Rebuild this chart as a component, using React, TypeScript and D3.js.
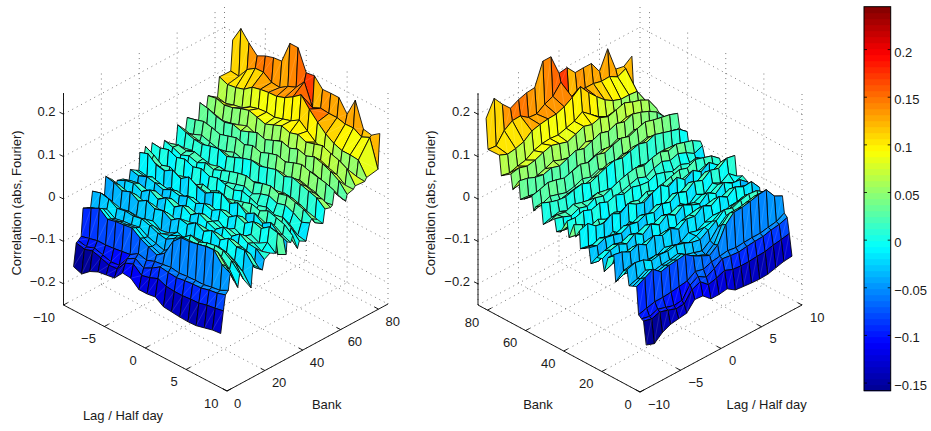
import React, { useEffect, useRef } from "react";
import * as d3 from "d3";

// values, one row per bank, each row runs over lags
// rows are in thousandths of a correlation to keep them short
const lags = [-9, -8, -7, -6, -5, -4, -3, -2, -1, 0, 1, 2, 3, 4, 5, 6, 7, 8, 9];
const banks = [1, 2.4, 3.5, 5, 6, 8, 10, 11, 13, 17, 18, 21, 23, 24, 27, 30, 31, 34, 35.5, 36, 38, 39, 41.5, 42.5, 46, 48, 49, 52, 55, 56, 59, 60, 61, 65, 67, 67.7, 71, 72, 77, 78, 84, 85];
const correlationRows = [
  [-152, -159, -143, -134, -131, -128, -106, -108, -125, -125, -122, -135, -137, -139, -140, -139, -134, -129, -127],
  [-99, -104, -98, -104, -111, -110, -86, -78, -95, -90, -82, -90, -92, -92, -90, -89, -84, -81, -77],
  [-96, -101, -94, -100, -106, -104, -78, -68, -80, -70, -57, -60, -62, -59, -57, -56, -51, -48, -42],
  [-90, -85, -80, -80, -78, -75, -72, -60, -65, -58, -55, -52, -55, -53, -52, -52, -48, -45, -35],
  [-26, -16, -6, -22, -17, -15, -12, -26, -36, -45, -31, 7, 26, 27, 31, 36, 38, 13, 3],
  [-30, -22, -12, -26, -22, -20, -16, -30, -40, -48, -34, 2, 20, 20, 24, 28, 28, 6, -20],
  [-34, -28, -18, -30, -26, -24, -20, -32, -38, -44, -30, -8, 8, 6, 10, 14, 12, -8, -40],
  [2, 8, 4, -8, -4, -6, -2, -8, -16, -20, -8, 4, 20, 14, 22, 26, 24, 10, -10],
  [-6, -2, -8, -14, -10, -14, -8, -14, -22, -16, -6, -2, 10, 6, 12, 18, 14, 0, -28],
  [-42, -34, -36, -38, -30, -32, -22, -34, -30, -18, -24, -14, -8, -16, -8, -6, -14, -30, -58],
  [20, 16, 6, 14, 2, 14, 4, 10, -2, 12, 8, 22, 12, 24, 12, 26, 16, 18, -6],
  [6, 2, -4, 0, -6, -2, -6, -4, -10, 0, 4, 8, 6, 10, 6, 14, 8, 2, -20],
  [-32, -24, -20, -30, -18, -26, -12, -24, -10, -20, -8, -12, -16, -6, -16, -4, -14, -34, -30],
  [-4, 6, 10, 0, 14, 2, 16, 4, 18, 6, 20, 10, 2, 18, 6, 22, 10, 8, -8],
  [-8, -2, 2, -4, 4, -2, 6, 0, 8, 2, 10, 4, -2, 6, 0, 10, 4, -6, 0],
  [-30, -34, -20, -32, -26, -16, -26, -12, -24, -8, -18, -2, -16, 0, -10, 6, -4, 8, -8],
  [5, 0, 8, 4, -2, 8, 4, 12, 6, 16, 10, 22, 14, 28, 20, 34, 28, 42, 38],
  [-4, -8, 0, -6, -10, -2, -6, 2, -4, 6, 0, 12, 6, 18, 10, 22, 16, 26, 18],
  [-8, -12, -16, -22, -8, -24, -6, -20, -26, -10, -4, -16, -6, -20, -8, -22, -10, -34, -24],
  [33, 40, 24, 20, 32, 22, 36, 24, 18, 30, 38, 24, 36, 20, 32, 18, 30, 14, 5],
  [14, 20, 14, 10, 16, 12, 20, 14, 10, 18, 24, 16, 22, 14, 20, 12, 18, 6, -2],
  [40, 30, 16, 22, 12, 18, 10, 22, 16, 26, 18, 24, 30, 36, 30, 40, 34, 28, 12],
  [4, 0, -10, 2, -8, 0, -12, 4, -6, 8, -2, 4, 12, 18, 6, 20, 10, -4, -24],
  [40, 38, 44, 36, 42, 34, 40, 32, 38, 32, 30, 38, 32, 24, 30, 22, 26, 12, -9],
  [6, 10, 20, 8, 14, 4, 12, 6, 14, 8, 4, 14, 8, 0, 6, -4, 2, -14, -18],
  [2, -4, -6, 2, -6, 6, 0, 10, 14, 20, 26, 18, 28, 34, 26, 32, 24, 12, 20],
  [30, 24, 16, 24, 18, 28, 22, 30, 38, 44, 48, 42, 50, 54, 46, 52, 46, 40, 28],
  [16, 22, 18, 26, 20, 16, 22, 18, 14, 20, 28, 34, 30, 36, 40, 38, 32, 24, 19],
  [2, 8, 12, 4, 0, -4, 6, 0, -4, 6, 2, 10, 14, 8, 18, 14, 6, -6, 2],
  [50, 42, 36, 34, 40, 44, 36, 44, 52, 58, 54, 60, 66, 60, 68, 62, 56, 50, 34],
  [34, 28, 24, 20, 24, 28, 24, 30, 38, 44, 42, 46, 52, 48, 54, 50, 44, 40, 30],
  [22, 28, 36, 30, 24, 28, 36, 30, 38, 30, 36, 44, 38, 46, 52, 46, 42, 30, 34],
  [55, 60, 66, 62, 56, 62, 68, 62, 70, 64, 72, 78, 72, 80, 86, 80, 76, 72, 65],
  [38, 34, 28, 32, 28, 34, 38, 44, 40, 46, 54, 50, 56, 52, 60, 56, 50, 44, 36],
  [32, 30, 26, 22, 28, 22, 30, 38, 32, 40, 46, 42, 52, 44, 52, 46, 40, 30, 26],
  [74, 70, 62, 58, 64, 58, 66, 74, 68, 76, 84, 78, 86, 80, 88, 82, 74, 62, 40],
  [46, 50, 44, 48, 54, 62, 54, 50, 56, 66, 60, 66, 58, 66, 72, 64, 58, 44, 44],
  [80, 84, 78, 82, 90, 96, 90, 84, 92, 100, 94, 100, 92, 98, 104, 96, 90, 80, 50],
  [64, 60, 66, 70, 82, 88, 90, 88, 94, 100, 112, 96, 80, 70, 60, 52, 54, 50, 48],
  [110, 102, 105, 111, 126, 131, 134, 135, 142, 154, 169, 145, 125, 107, 95, 88, 88, 86, 55],
  [109, 107, 133, 146, 147, 133, 131, 144, 152, 175, 124, 133, 131, 131, 126, 127, 116, 125, 60],
  [180, 217, 193, 173, 183, 189, 191, 243, 243, 194, 197, 175, 176, 176, 147, 190, 132, 128, 142],
];
const correlation = correlationRows.map((row) => row.map((v) => v / 1000));

const lagTicks = [-10, -5, 0, 5, 10];
const bankTicks = [0, 20, 40, 60, 80];
const zTicks = [-0.2, -0.1, 0, 0.1, 0.2];
const barTicks = [-0.15, -0.1, -0.05, 0, 0.05, 0.1, 0.15, 0.2];

const FONT = "'Liberation Sans', Arial, sans-serif";
const fmt = (v: number) => String(v).replace("-", "\u2212");

// jet, 64 steps like the matlab one
const jetStops = d3.scaleLinear<string>()
  .domain([0, 0.125, 0.375, 0.625, 0.875, 1])
  .range(["#000090", "#0000ff", "#00ffff", "#ffff00", "#ff0000", "#800000"]);
const jetColors = d3.range(64).map((i) => jetStops((i + 0.5) / 64));
const cmin = -0.158;
const cmax = 0.245;
const color = d3.scaleQuantize<string>().domain([cmin, cmax]).range(jetColors);

const lagDomain = [-10, 10];
const bankDomain = [0, 85];
const zDomain = [-0.25, 0.25];

function drawPlot(svg: any, cfg: any) {
  const g = svg.append("g");
  const { lagStart, lagEnd, bankStart, bankEnd, mirror } = cfg;
  const lagX = d3.scaleLinear().domain(lagDomain).range([lagStart[0], lagEnd[0]]);
  const lagY = d3.scaleLinear().domain(lagDomain).range([lagStart[1], lagEnd[1]]);
  const bankX = d3.scaleLinear().domain(bankDomain).range([0, bankEnd[0] - bankStart[0]]);
  const bankY = d3.scaleLinear().domain(bankDomain).range([0, bankEnd[1] - bankStart[1]]);
  const zY = d3.scaleLinear().domain(zDomain).range([0, -cfg.zHeight]);
  const project = (lag: number, bank: number, z: number): [number, number] => [
    lagX(lag) + bankX(bank),
    lagY(lag) + bankY(bank) + zY(z),
  ];
  const line = d3.line();

  // dotted grid on the floor and the two back walls
  const bankMax = bankDomain[1];
  const zMin = zDomain[0];
  const zMax = zDomain[1];
  const farLag = mirror ? 10 : -10;
  const grid: [number, number][][] = [];
  lagTicks.forEach((l) => {
    grid.push([project(l, 0, zMin), project(l, bankMax, zMin)]);
    grid.push([project(l, bankMax, zMin), project(l, bankMax, zMax)]);
  });
  bankTicks.forEach((b) => {
    grid.push([project(lagDomain[0], b, zMin), project(lagDomain[1], b, zMin)]);
    grid.push([project(farLag, b, zMin), project(farLag, b, zMax)]);
  });
  grid.push([project(lagDomain[0], bankMax, zMin), project(lagDomain[1], bankMax, zMin)]);
  zTicks.forEach((z) => {
    grid.push([project(farLag, 0, z), project(farLag, bankMax, z)]);
    grid.push([project(lagDomain[0], bankMax, z), project(lagDomain[1], bankMax, z)]);
  });
  g.append("g").selectAll("path").data(grid).enter().append("path")
    .attr("d", (d: any) => line(d))
    .attr("fill", "none").attr("stroke", "#444").attr("stroke-width", 0.7)
    .attr("stroke-dasharray", "1 4");

  // faces back to front, coloured by their first corner
  const faces: any[] = [];
  for (let i = banks.length - 2; i >= 0; i--) {
    const order = d3.range(lags.length - 1);
    if (mirror) order.reverse();
    order.forEach((j) => {
      faces.push({
        pts: [
          project(lags[j], banks[i], correlation[i][j]),
          project(lags[j + 1], banks[i], correlation[i][j + 1]),
          project(lags[j + 1], banks[i + 1], correlation[i + 1][j + 1]),
          project(lags[j], banks[i + 1], correlation[i + 1][j]),
        ],
        value: correlation[i][j],
      });
    });
  }
  const faceG = g.append("g").selectAll("g").data(faces).enter().append("g");
  faceG.append("path")
    .attr("d", (d: any) => line(d.pts) + "Z")
    .attr("fill", (d: any) => color(d.value))
    .attr("stroke", "#000").attr("stroke-width", 0.85).attr("stroke-linejoin", "round");
  faceG.append("path")
    .attr("d", (d: any) => line([d.pts[0], d.pts[2]]))
    .attr("stroke", "#fff").attr("stroke-opacity", 0.22).attr("stroke-width", 0.6);

  // solid axes
  const axisLine = (a: [number, number], b: [number, number]) =>
    g.append("line").attr("x1", a[0]).attr("y1", a[1]).attr("x2", b[0]).attr("y2", b[1])
      .attr("stroke", "#000").attr("stroke-width", 0.9);
  const text = (x: number, y: number, s: string, anchor: string) =>
    g.append("text").attr("x", x).attr("y", y).attr("text-anchor", anchor)
      .attr("dominant-baseline", "central").attr("font-family", FONT).attr("font-size", 13)
      .attr("fill", "#1a1a1a").text(s);

  const zLag = lagDomain[0];
  const zBank = mirror ? bankMax : 0;
  axisLine(project(zLag, zBank, zMin), project(zLag, zBank, zMax));
  axisLine(project(lagDomain[0], 0, zMin), project(lagDomain[1], 0, zMin));
  const sideLag = mirror ? lagDomain[0] : lagDomain[1];
  axisLine(project(sideLag, 0, zMin), project(sideLag, bankMax, zMin));

  zTicks.forEach((z) => {
    const p = project(zLag, zBank, z);
    axisLine(p, [p[0] - 4, p[1] - 2]);
    text(p[0] - 8, p[1] - 2.5, fmt(z), "end");
  });
  lagTicks.forEach((l) => {
    const p = project(l, 0, zMin);
    const t = project(l, 5, zMin);
    const q = [p[0] + (t[0] - p[0]) * 0.45, p[1] + (t[1] - p[1]) * 0.45] as [number, number];
    axisLine(p, q);
    if (mirror) text(p[0] + 8, p[1] + 12, fmt(l), "start");
    else text(p[0] - 8.5, p[1] + 12, fmt(l), "end");
  });
  bankTicks.forEach((b) => {
    const p = project(sideLag, b, zMin);
    const t = project(sideLag + (mirror ? 0.5 : -0.5), b, zMin);
    axisLine(p, t);
    if (mirror) text(p[0] - 8.3, p[1] + 12, fmt(b), "end");
    else text(p[0] + 7, p[1] + 12, fmt(b), "start");
  });

  const title = (x: number, y: number, s: string, rot = false) =>
    g.append("text").attr("text-anchor", "middle").attr("dominant-baseline", "central")
      .attr("transform", `translate(${x},${y})` + (rot ? " rotate(-90)" : ""))
      .attr("font-family", FONT).attr("font-size", 13).attr("fill", "#1a1a1a").text(s);
  title(cfg.lagLabel[0], cfg.lagLabel[1], "Lag / Half day");
  title(cfg.bankLabel[0], cfg.bankLabel[1], "Bank");
  title(cfg.zLabel[0], cfg.zLabel[1], "Correlation (abs, Fourier)", true);
}

function drawColorbar(svg: any) {
  const x0 = 864;
  const x1 = 890.7;
  const y = d3.scaleLinear().domain([cmin, cmax]).range([390.7, 6.7]);
  const g = svg.append("g");
  const step = (cmax - cmin) / jetColors.length;
  g.selectAll("rect.c").data(jetColors).enter().append("rect")
    .attr("x", x0).attr("width", x1 - x0)
    .attr("y", (_: any, i: number) => y(cmin + (i + 1) * step))
    .attr("height", (_: any, i: number) => y(cmin + i * step) - y(cmin + (i + 1) * step) + 0.5)
    .attr("fill", (d: string) => d);
  g.append("rect").attr("x", x0).attr("y", y(cmax)).attr("width", x1 - x0).attr("height", y(cmin) - y(cmax))
    .attr("fill", "none").attr("stroke", "#000").attr("stroke-width", 1);
  barTicks.forEach((t) => {
    g.append("line").attr("x1", x0).attr("x2", x0 + 3).attr("y1", y(t)).attr("y2", y(t)).attr("stroke", "#000").attr("stroke-width", 0.8);
    g.append("line").attr("x1", x1 - 3).attr("x2", x1).attr("y1", y(t)).attr("y2", y(t)).attr("stroke", "#000").attr("stroke-width", 0.8);
    g.append("text").attr("x", x1 + 3.5).attr("y", y(t) + 2.5).attr("dominant-baseline", "central")
      .attr("font-family", FONT).attr("font-size", 13).attr("fill", "#1a1a1a").text(fmt(t));
  });
}

export default function App() {
  const ref = useRef<SVGSVGElement>(null);
  useEffect(() => {
    const svg = d3.select(ref.current);
    svg.selectAll("*").remove();
    // left view: lag runs down to the right, bank runs up to the right
    drawPlot(svg, {
      lagStart: [63.5, 305], lagEnd: [227, 391],
      bankStart: [227, 391], bankEnd: [388, 304],
      zHeight: 212, mirror: false,
      lagLabel: [123, 415.5], bankLabel: [326.7, 404], zLabel: [16, 203],
    });
    // right view: lag runs up to the right, bank runs up to the left
    drawPlot(svg, {
      lagStart: [640, 392], lagEnd: [802, 305],
      bankStart: [640, 392], bankEnd: [478, 305],
      zHeight: 212, mirror: true,
      lagLabel: [766.7, 404], bankLabel: [538, 404], zLabel: [430, 203],
    });
    drawColorbar(svg);
  }, []);
  return (
    <svg ref={ref} width={931} height={431}
      style={{ position: "absolute", left: 0, top: 0, background: "#fff" }} />
  );
}
